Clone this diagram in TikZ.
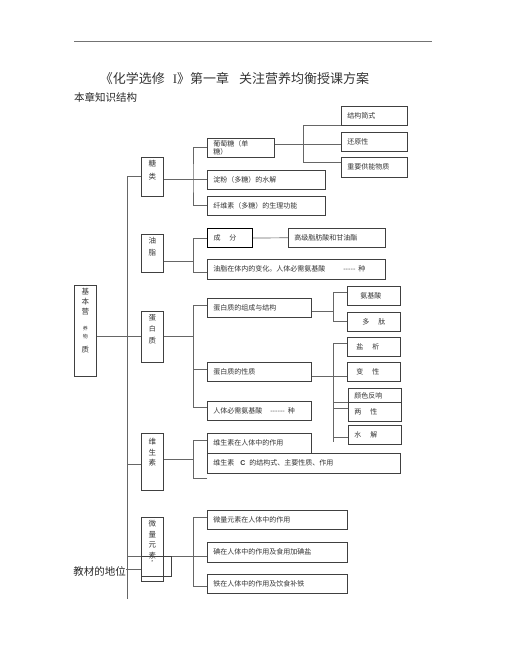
\documentclass[tikz,border=0pt]{standalone}
\usepackage{fontspec}
\setmainfont{Liberation Serif}
\newfontfamily\cjk{Noto Sans CJK SC}
\newfontfamily\latinsans{Liberation Sans}
\usetikzlibrary{positioning}

\newcommand\colstack[2]{\parbox[c][#1][t]{22pt}{\centering\vspace*{3pt}#2}}

\tikzset{
  link/.style={draw=black!60, line width=0.7pt},
  itembox/.style={draw=black!75, line width=0.6pt, anchor=north west,
    inner xsep=6pt, inner ysep=1pt, minimum height=19pt, text width=#1,
    align=left, text=black!80, font=\cjk\fontsize{7}{8.5}\selectfont},
  catbox/.style={draw=black!75, line width=0.6pt, anchor=north west,
    inner sep=0pt, text=black!80, font=\cjk\fontsize{7.5}{10}\selectfont},
}

\begin{document}
\begin{tikzpicture}[x=1pt, y=-1pt]
  \useasboundingbox (0,0) rectangle (506,655);

  % heading
  \draw[black!55, line width=0.8pt] (74,41) -- (432,41);
  \node[font=\cjk\fontsize{13}{15}\selectfont, text=black!80] (title) at (234.5,79)
    {《化学选修\hspace{8pt}{\rmfamily I}》第一章\hspace{10pt}关注营养均衡授课方案};
  \node[anchor=west, inner sep=0pt, font=\cjk\fontsize{10.5}{12}\selectfont, text=black!85] (outline) at (74,97) {本章知识结构};

  % trunk
  \coordinate (trunktop) at (127,176);
  \coordinate (trunkbot) at (127,599);
  \draw[link] (trunktop) -- (trunkbot);

  % categories
  \node[catbox] (base) at (74,285) {\colstack{91pt}{基\\本\\营\\[6pt]{\tiny 养}\\[-2pt]{\tiny 物}\\[4pt]质}};
  \node[catbox] (sugar) at (141,157) {\colstack{39pt}{糖\\[3pt]类}};
  \node[catbox] (oil) at (141,234) {\colstack{38pt}{油\\[1.5pt]脂}};
  \node[catbox] (protein) at (141,311) {\colstack{51pt}{蛋\\[1.5pt]{\scriptsize 白}\\[1.5pt]质}};
  \node[catbox] (vitamin) at (141,433) {\colstack{57pt}{\vspace*{2pt}维\\[0.5pt]生\\[0.5pt]素}};
  \node[catbox] (trace) at (141,517) {\colstack{64pt}{微\\[0.5pt]量\\[0.5pt]元\\[0.5pt]素\\[-4pt]{\tiny *}}};

  % sugars
  \node[itembox=55pt] (g1) at (207,138) {葡萄糖（单\\糖）};
  \node[itembox=106pt] (g2) at (207,170) {淀粉（多糖）的水解};
  \node[itembox=106pt] (g3) at (207,196) {纤维素（多糖）的生理功能};
  \node[itembox=54pt] (g1a) at (341,106) {结构简式};
  \node[itembox=54pt] (g1b) at (341,132) {还原性};
  \node[itembox=54pt, minimum height=20pt] (g1c) at (341,157) {重要供能物质};

  % oils
  \node[itembox=33pt, draw=black, line width=1pt] (o1) at (207,228) {成\hspace{9pt}分};
  \node[itembox=85pt] (o1a) at (288,228) {高级脂肪酸和甘油酯};
  \node[itembox=166pt, minimum height=20pt] (o2) at (207,259)
    {油脂在体内的变化。人体必需氨基酸\hspace{18pt}-{}-{}-{}-{}-\hspace{3pt}种};

  % proteins
  \node[itembox=92pt] (p1) at (207,298) {蛋白质的组成与结构};
  \node[itembox=92pt] (p2) at (207,362) {蛋白质的性质};
  \node[itembox=92pt] (p3) at (207,401) {人体必需氨基酸\hspace{8pt}-{}-{}-{}-{}-{}-\hspace{3pt}种};
  \node[itembox=41pt] (p1a) at (347,286) {\hspace*{7pt}氨基酸};
  \node[itembox=41pt] (p1b) at (347,312) {\hspace*{9pt}多\hspace{9pt}肽};
  \node[itembox=41pt] (p2a) at (347,337) {\hspace*{3pt}盐\hspace{9pt}析};
  \node[itembox=41pt] (p2b) at (347,362) {\hspace*{3pt}变\hspace{9pt}性};
  \node[itembox=41pt, minimum height=15pt] (p2c) at (348,388) {颜色反响};
  \node[itembox=41pt, fill=white] (p2d) at (348,402) {两\hspace{9pt}性};
  \node[itembox=41pt] (p2e) at (348,425) {水\hspace{9pt}解};

  % vitamins
  \node[itembox=92pt, minimum height=20pt] (v1) at (207,433) {维生素在人体中的作用};
  \node[itembox=181pt, minimum height=20pt] (v2) at (207,453)
    {维生素\hspace{6pt}{\latinsans\bfseries C}\hspace{4pt}的结构式、主要性质、作用};

  % trace elements
  \node[itembox=128pt] (t1) at (207,510) {微量元素在人体中的作用};
  \node[itembox=128pt, minimum height=20pt] (t2) at (207,542) {碘在人体中的作用及食用加碘盐};
  \node[itembox=128pt] (t3) at (207,574) {铁在人体中的作用及饮食补铁};

  \node[anchor=east, inner sep=0pt, font=\cjk\fontsize{10.5}{12}\selectfont, text=black!85] (place) at (126,571) {教材的地位};

  % sugar links
  \coordinate (sugarfork) at ([xshift=-14pt]g2.west);
  \coordinate (glufork) at ([xshift=29pt]g1.east);
  \draw[link] (trunktop) -- (trunktop -| sugar.west);
  \draw[link] (sugar.east |- sugarfork) -- (g2.west);
  \draw[link] (g1.west) -| (sugarfork) |- (g3.west);
  \draw[link] ([yshift=3pt]g1.east) -- ([yshift=3pt]g1.east -| g1b.west);
  \draw[link] (g1a.south west) -| (glufork) |- ([yshift=5pt]g1c.west);

  % oil links
  \coordinate (oilfork) at ([xshift=-14pt]o1.west);
  \draw[link] ([yshift=-8pt]oil.east) -- ([yshift=-8pt]oil.east -| oilfork);
  \draw[link] (o1.west) -- (oilfork) |- ([yshift=-3pt]o2.west);
  \draw[link] (o1.east) -- (o1a.west);

  % protein links
  \coordinate (protfork) at ([xshift=-14pt]p1.west);
  \coordinate (structfork) at ([xshift=22pt]p1.east);
  \coordinate (propfork) at ([xshift=22pt]p2.east);
  \coordinate (propend) at ([yshift=-7pt]propfork |- p2e.west);
  \draw[link] (base.east |- protein.west) -- (protein.west);
  \draw[link] (protein.east) -- (protein.east -| protfork);
  \draw[link] ([yshift=2pt]p1.west) -- ([yshift=2pt]protfork) |- ([yshift=3pt]p3.west);
  \draw[link] ([yshift=2pt]protfork |- p2.west) -- ([yshift=2pt]p2.west);
  \draw[link] ([yshift=-4pt]p1.east) -- ([yshift=-4pt]structfork);
  \draw[link] ([yshift=3pt]p1a.west) -| (structfork) |- (p1b.west);
  \draw[link] ([yshift=-5pt]p2.east) -- ([yshift=-5pt]p2b.west);
  \draw[link] ([yshift=3pt]p2a.west) -| (propend);
  \draw[link] (propfork |- p2d.north west) -- (p2d.north west);
  \draw[link] ([yshift=-6pt]propfork |- p2d.north west) -- ([yshift=-6pt]p2d.north west);
  \draw[link] ([yshift=-3pt]propfork |- p2e.west) -- ([yshift=-3pt]p2e.west);

  % vitamin links
  \coordinate (vitfork) at ([xshift=-14pt]v1.west);
  \coordinate (vitstub) at ([yshift=-5pt]v2.south west);
  \draw[link] ([yshift=-3pt]vitamin.west -| trunktop) -- ([yshift=-3pt]vitamin.west);
  \draw[link] ([yshift=2pt]vitamin.east) -- ([yshift=2pt]vitamin.east -| vitfork);
  \draw[link] ([yshift=3pt]v1.west) -- ([yshift=3pt]vitfork) |- (vitstub);

  % trace links
  \coordinate (tracefork) at ([xshift=-14pt]t1.west);
  \draw[link] ([yshift=-4pt]t2.west -| trunktop) -- ([yshift=-4pt]t2.west);
  \draw[link] ([yshift=2pt]t1.west) -- ([yshift=2pt]tracefork) |- ([yshift=-3pt]t3.west);
  \draw[link] ([yshift=2pt]place.east) -- ([yshift=2pt]place.east -| trace.west);
  \node[catbox, minimum width=30pt, minimum height=20pt] (flap) at ([yshift=-4pt]trace.west |- t2.west) {};
\end{tikzpicture}
\end{document}
